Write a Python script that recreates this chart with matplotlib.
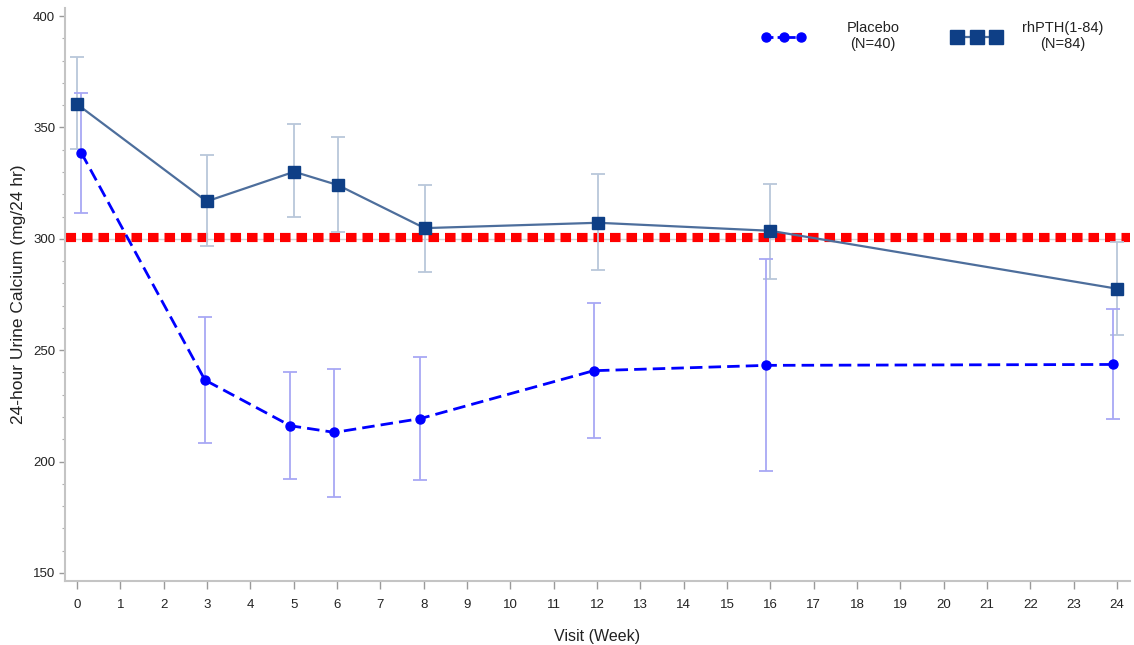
import matplotlib
matplotlib.use('Agg')
from matplotlib import pyplot as plt
from matplotlib.legend import Legend
from matplotlib.lines import Line2D
from matplotlib.ticker import MultipleLocator

# visits (weeks) as plotted, slightly offset per group
placebo_weeks = [0.1, 2.95, 4.92, 5.94, 7.92, 11.92, 15.91, 23.9]
placebo_mean = [338.5, 236.6, 216.1, 213.1, 219.3, 240.8, 243.2, 243.6]
placebo_lo = [311.5, 208.5, 192.2, 184.0, 191.7, 210.6, 195.9, 219.0]
placebo_hi = [365.4, 264.9, 240.2, 241.6, 247.0, 271.3, 290.8, 268.4]

rhpth_weeks = [0.0, 2.99, 5.01, 6.02, 8.02, 12.02, 16.0, 24.0]
rhpth_mean = [360.4, 316.8, 330.1, 324.1, 304.8, 307.2, 303.6, 277.6]
rhpth_lo = [340.3, 296.8, 309.6, 303.0, 285.0, 286.0, 282.1, 256.7]
rhpth_hi = [381.6, 337.6, 351.4, 345.8, 324.0, 328.9, 324.7, 298.6]

threshold = 301
ref_line = 300
x_ticks = list(range(0, 25))
y_ticks = [150, 200, 250, 300, 350, 400]

font_size = 9.5
placebo_color = '#0000ff'
placebo_err = '#a8a8f4'
rhpth_color = '#0e3f86'
rhpth_line = '#4d6e9c'
rhpth_err = '#b9c7da'
axis_gray = '#c4c4c4'


def add_legend(ax, handle, label, x, length, pad):
	leg = Legend(ax, [handle], [label], loc='upper left', frameon=False, numpoints=3,
		handlelength=length, handletextpad=pad, bbox_to_anchor=(x, 1.0), fontsize=10.5)
	for t in leg.get_texts():
		t.set_multialignment('center')
		t.set_color('#222222')
	ax.add_artist(leg)


def main():
	plt.rcParams['font.family'] = ['Liberation Sans', 'DejaVu Sans']
	plt.rcParams['font.size'] = font_size

	fig = plt.figure(figsize=(11.34, 6.45), dpi=100)
	ax = fig.add_axes([0.0573, 0.0992, 0.9392, 0.8884])

	ax.axhline(ref_line, color='#d0d0d0', lw=1.0, zorder=1)
	ax.axhline(threshold, color='#ff0000', lw=6.6, linestyle=(0, (1.15, 0.65)), zorder=2)

	# error bars
	ax.errorbar(rhpth_weeks, rhpth_mean,
		yerr=[[m - l for m, l in zip(rhpth_mean, rhpth_lo)], [h - m for m, h in zip(rhpth_mean, rhpth_hi)]],
		fmt='none', ecolor=rhpth_err, elinewidth=1.3, capsize=5, capthick=1.3, zorder=3)
	ax.errorbar(placebo_weeks, placebo_mean,
		yerr=[[m - l for m, l in zip(placebo_mean, placebo_lo)], [h - m for m, h in zip(placebo_mean, placebo_hi)]],
		fmt='none', ecolor=placebo_err, elinewidth=1.3, capsize=5, capthick=1.3, zorder=3)

	ax.plot(rhpth_weeks, rhpth_mean, color=rhpth_line, lw=1.6, zorder=4)
	ax.plot(rhpth_weeks, rhpth_mean, 's', color=rhpth_color, ms=8, zorder=5)
	ax.plot(placebo_weeks, placebo_mean, color=placebo_color, lw=2.0, linestyle=(0, (4.5, 2.2)), zorder=4)
	ax.plot(placebo_weeks, placebo_mean, 'o', color=placebo_color, ms=6.5, zorder=5)

	ax.set_xlim(-0.28, 24.3)
	ax.set_ylim(146.4, 403.6)
	ax.set_xticks(x_ticks)
	ax.set_yticks(y_ticks)
	ax.yaxis.set_minor_locator(MultipleLocator(10))

	for s in ['top', 'right']:
		ax.spines[s].set_visible(False)
	for s in ['left', 'bottom']:
		ax.spines[s].set_color(axis_gray)
		ax.spines[s].set_linewidth(1.5)
	ax.tick_params(axis='both', which='major', color='#9a9a9a', width=1, labelcolor='#222222', labelsize=font_size)
	ax.tick_params(axis='x', length=6, pad=7)
	ax.tick_params(axis='y', length=4, pad=3)
	ax.tick_params(axis='y', which='minor', color='#b0b0b0', length=2.5, width=0.8)

	ax.set_ylabel('24-hour Urine Calcium (mg/24 hr)', fontsize=12.5, color='#222222', labelpad=5)
	ax.set_xlabel('Visit (Week)', fontsize=11.5, color='#222222', labelpad=13)

	placebo_handle = Line2D([], [], color=placebo_color, lw=2.0, linestyle=(0, (2.5, 1.5)), marker='o', ms=6.5)
	rhpth_handle = Line2D([], [], color=rhpth_line, lw=1.6, marker='s', ms=10, mfc=rhpth_color, mec=rhpth_color)
	add_legend(ax, placebo_handle, 'Placebo\n(N=40)', 0.642, 3.0, 2.8)
	add_legend(ax, rhpth_handle, 'rhPTH(1-84)\n(N=84)', 0.821, 3.3, 1.45)

	plt.savefig('out.png', dpi=100)


if __name__ == "__main__":
	main()
